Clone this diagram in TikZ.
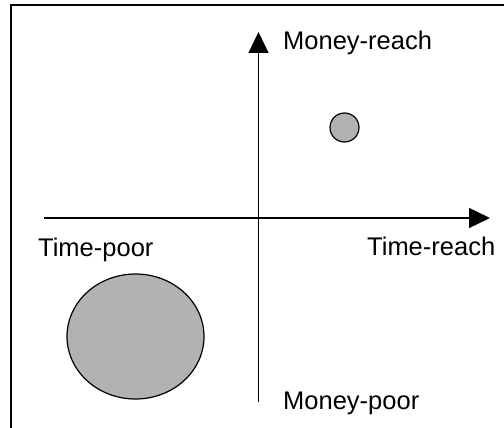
\documentclass[tikz,border=0pt]{standalone}
\usepackage{fontspec}
\setmainfont{Liberation Sans}
\usetikzlibrary{arrows.meta,shapes.geometric}

\begin{document}
\begin{tikzpicture}[
    x=1pt,y=-1pt,
    axis/.style={
      line width=1.3pt,
      -{Triangle[width=20pt,length=21pt]}
    },
    lbl/.style={
      anchor=base west,
      inner sep=0pt,
      font=\fontsize{25.5}{30}\selectfont
    },
    blob/.style={
      draw,
      line width=1.2pt,
      fill=black!30,
      inner sep=0pt
    }
    ]
    \useasboundingbox (0,0) rectangle (504,428);
    \clip (0,0) rectangle (504,428);
    % frame, cut off at right and bottom
    \draw[line width=2pt] (11,5) rectangle (530,450);

    \coordinate (ybot) at (258.5,402);
    \coordinate (ytop) at (258.5,32);
    \coordinate (xleft) at (44,218);
    \coordinate (xright) at (490,218);
    \draw[axis] (ybot) -- (ytop);
    \draw[axis] (xleft) -- (xright);

    \node[lbl] (mreach) at (283,50) {Money-reach};
    \node[lbl] (tpoor) at (38,256) {Time-poor};
    \node[lbl] (treach) at (367,255) {Time-reach};
    \node[lbl] (mpoor) at (283,409) {Money-poor};

    \node[blob,circle,minimum size=29pt] (small) at (344.5,127.5) {};
    \node[blob,ellipse,minimum width=137pt,minimum height=125pt] (big) at (135.5,336.5) {};
\end{tikzpicture}
\end{document}
